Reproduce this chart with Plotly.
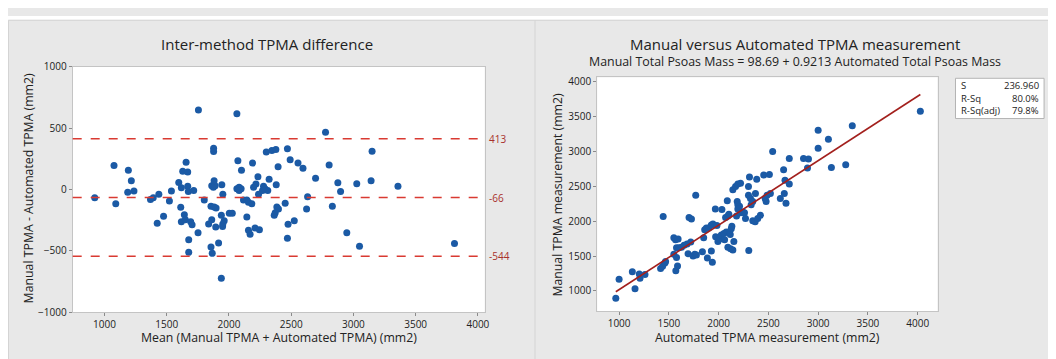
import plotly.graph_objects as go

W, H = 1056, 359
OFF = 8  # default page body margin shifts the figure by 8px

# ---------------- Data: Bland-Altman (left) ----------------
ba_mean = [1755, 1877, 1877, 1077, 1192, 1216, 1187, 1237, 922, 1091,
           1656, 1629, 1669, 1597, 1618, 1669, 1674, 1717, 1538, 1522,
           1437, 1392, 1370, 1475, 1424, 1613, 1642, 1618, 1650, 1693,
           1704, 1752, 1677, 1677, 1802, 1856, 1881, 1897, 1862, 1875,
           1889, 1881, 1837, 1862, 1894, 1856, 1866,
           2064, 2776, 2300, 2345, 2377, 2470, 2492, 2555, 2595, 2072,
           2190, 2101, 2395, 2805, 2696, 2233, 2323, 2198, 2217, 2278,
           2290, 2312, 2270, 2238, 2380, 2064, 2082, 2098, 2082, 1943,
           1951, 2632, 2117, 2144, 2157, 2184, 2452, 2385, 2398, 2372,
           2364, 2624, 2831, 2003, 2027, 1939, 2144, 1962, 1951, 1949,
           2525, 2475, 2157, 2170, 2210, 2245, 2470, 1917, 1939,
           2875, 2897, 3027, 3142, 3150, 3358, 2947, 3049, 3812]
ba_diff = [648, 336, 310, 195, 156, 70, -23, -13, -68, -117,
           221, 148, 143, 57, 13, 26, -16, -8, -13, -94,
           -39, -68, -81, -219, -276, -146, -206, -263, -247, -263,
           -287, -354, -411, -513, -86, -138, -143, -151, 31, 18,
           31, 70, -281, -247, -307, -469, -521,
           617, 466, 305, 318, 326, 331, 242, 216, 172, 234,
           216, 156, 185, 200, 91, 104, 83, 18, 44, 26,
           5, -8, -8, -39, 39, 5, 18, 5, -8, 39,
           -39, -60, -86, -86, -104, -117, -112, -143, -159, -190,
           -211, -159, -138, -195, -195, -211, -224, -255, -281, -302,
           -255, -284, -333, -365, -315, -328, -398, -437, -724,
           55, -16, 47, 70, 312, 26, -354, -463, -440]
ref_values = [413, -66, -544]
ref_labels = ["413", "-66", "-544"]

# ---------------- Data: regression (right) ----------------
automated = [967, 1000, 1133, 1160, 1203, 1210, 1260, 1417, 1437, 1460,
             1467, 1443, 1550, 1567, 1593, 1550, 1570, 1587, 1577, 1577,
             1600, 1627, 1653, 1683, 1693, 1703, 1727, 1720, 1743, 1760,
             1777, 1770, 1837, 1850, 1860, 1877, 1900, 1887, 1927, 1937,
             1927, 1943, 1967, 1970, 1983, 1993, 2010, 2027, 2033, 2060,
             2077, 2053, 2087, 2070, 2093, 2103, 2093, 2120, 2143, 2110,
             2127, 2133, 2117, 2153, 2143, 2170, 2193, 2220, 2187, 2193,
             2210, 2193, 2180, 2220, 2243, 2260, 2270, 2300, 2320, 2300,
             2310, 2303, 2327, 2343, 2343, 2367, 2393, 2420, 2370, 2383,
             2453, 2510, 2467, 2477, 2487, 2520, 2620, 2660, 2667, 2677,
             2710, 4027, 3000, 3343, 3103, 3000, 2543, 2710, 2853, 2903,
             2893, 2653, 3133, 3277]
manual = [895, 1169, 1274, 1032, 1242, 1183, 1237, 1320, 1352, 1402,
          1420, 2064, 1763, 1731, 1744, 1525, 1288, 1356, 1479, 1617,
          1617, 1626, 1653, 1671, 1534, 2050, 2028, 1699, 1502, 1525,
          1516, 2370, 1562, 1763, 1877, 1900, 1900, 1470, 1571, 1411,
          1945, 1959, 2174, 1776, 1936, 1708, 1744, 1799, 2165, 1731,
          1845, 1822, 2292, 2050, 2073, 2096, 1626, 1603, 1585, 1845,
          1890, 1927, 1808, 1708, 2448, 2493, 2530, 2539, 2279, 2233,
          2210, 2174, 2073, 2119, 2128, 2119, 2037, 2370, 2324, 2493,
          2630, 1580, 2233, 2279, 2005, 1991, 2037, 2082, 2393, 2598,
          2658, 2667, 2324, 2279, 2370, 2393, 2324, 2393, 2585, 2256,
          2530, 3571, 3297, 3361, 3169, 3041, 2996, 2895, 2895, 2886,
          2758, 2735, 2767, 2804]
intercept = 98.69
slope = 0.9213
stats_labels = ["S", "R-Sq", "R-Sq(adj)"]
stats_values = ["236.960", "80.0%", "79.8%"]

# ---------------- Styling ----------------
FONT = "Open Sans, Noto Sans, sans-serif"
PANEL = "#e8e8e8"
BLUE = "#1b5aa5"
RED_DASH = "#d93a32"
RED_TXT = "#a8302b"
FIT = "#a3201d"
TXT = "#222222"


def fx(px):
    return (px - OFF) / W


def fy(py):
    return 1 - (py - OFF) / H


fig = go.Figure()

fig.add_trace(go.Scatter(x=ba_mean, y=ba_diff, mode="markers",
                         marker=dict(color=BLUE, size=7),
                         xaxis="x", yaxis="y", showlegend=False))

fit_x = [min(automated), max(automated)]
fit_y = [intercept + slope * v for v in fit_x]
fig.add_trace(go.Scatter(x=automated, y=manual, mode="markers",
                         marker=dict(color=BLUE, size=7),
                         xaxis="x2", yaxis="y2", showlegend=False))
fig.add_trace(go.Scatter(x=fit_x, y=fit_y, mode="lines",
                         line=dict(color=FIT, width=1.6),
                         xaxis="x2", yaxis="y2", showlegend=False))

axis_common = dict(showline=True, mirror=True, linecolor="#c4c4c4", linewidth=1,
                   ticks="outside", ticklen=3, tickcolor="#8a8a8a",
                   showgrid=False, zeroline=False,
                   tickfont=dict(family=FONT, size=10, color=TXT))

shapes = [
    # white page strip above the grey panels
    dict(type="rect", xref="paper", yref="paper", x0=0, x1=1, y0=fy(12), y1=1,
         fillcolor="white", line=dict(width=0), layer="below"),
    # panel borders
    dict(type="line", xref="paper", yref="paper", x0=fx(8.5), x1=1, y0=fy(12.5), y1=fy(12.5),
         line=dict(color="#d4d4d4", width=1), layer="below"),
    dict(type="line", xref="paper", yref="paper", x0=fx(8.5), x1=fx(8.5), y0=0, y1=fy(12.5),
         line=dict(color="#d4d4d4", width=1), layer="below"),
    dict(type="line", xref="paper", yref="paper", x0=fx(537.5), x1=fx(537.5), y0=0, y1=fy(12.5),
         line=dict(color="#d4d4d4", width=1), layer="below"),
    # stats box
    dict(type="rect", xref="paper", yref="paper", x0=fx(960), x1=fx(1049),
         y0=fy(115), y1=fy(73), fillcolor="white", line=dict(color="#b4b4b4", width=1)),
]
for v in ref_values:
    shapes.append(dict(type="line", xref="x domain", yref="y", x0=0, x1=1, y0=v, y1=v,
                       line=dict(color=RED_DASH, width=1.5, dash="dash")))


def ann(text, px, py, size, xanchor="center", angle=0, color=TXT):
    return dict(text=text, x=fx(px), y=fy(py), xref="paper", yref="paper",
                xanchor=xanchor, yanchor="middle", showarrow=False, textangle=angle,
                font=dict(family=FONT, size=size, color=color))


annotations = [
    ann("Inter-method TPMA difference", 268, 37, 15),
    ann("Manual versus Automated TPMA measurement", 799, 37, 15),
    ann("Manual Total Psoas Mass = 98.69 + 0.9213 Automated Total Psoas Mass", 799, 55, 12.4),
    ann("Mean (Manual TPMA + Automated TPMA) (mm2)", 280, 343, 12.3),
    ann("Manual TPMA - Automated TPMA (mm2)", 29, 188, 12.3, angle=-90),
    ann("Automated TPMA measurement (mm2)", 771, 343, 12.3),
    ann("Manual TPMA measurement (mm2)", 560, 194, 12.3, angle=-90),
]
for v, lab in zip(ref_values, ref_labels):
    annotations.append(dict(text=lab, x=1.006, y=v, xref="x domain", yref="y",
                            xanchor="left", yanchor="middle", showarrow=False,
                            font=dict(family=FONT, size=10, color=RED_TXT)))
row_y = [81, 94, 107]
for lab, val, ry in zip(stats_labels, stats_values, row_y):
    annotations.append(ann(lab, 964, ry, 9.5, xanchor="left"))
    annotations.append(ann(val, 1046, ry, 9.5, xanchor="right"))

fig.update_layout(
    width=W, height=H,
    margin=dict(l=0, r=0, t=0, b=0),
    paper_bgcolor=PANEL, plot_bgcolor="white",
    xaxis=dict(domain=[fx(73), fx(487)], range=[745, 4055],
               tickvals=[1000, 1500, 2000, 2500, 3000, 3500, 4000], anchor="y", **axis_common),
    yaxis=dict(domain=[fy(317), fy(61)], range=[-1000, 1000],
               tickvals=[-1000, -500, 0, 500, 1000], anchor="x", **axis_common),
    xaxis2=dict(domain=[fx(600), fx(942)], range=[780, 4200],
                tickvals=[1000, 1500, 2000, 2500, 3000, 3500, 4000], anchor="y2", **axis_common),
    yaxis2=dict(domain=[fy(316), fy(72)], range=[712, 4055],
                tickvals=[1000, 1500, 2000, 2500, 3000, 3500, 4000], anchor="x2", **axis_common),
    shapes=shapes,
    annotations=annotations,
    font=dict(family=FONT, color=TXT),
)

fig.write_html("out.html")
